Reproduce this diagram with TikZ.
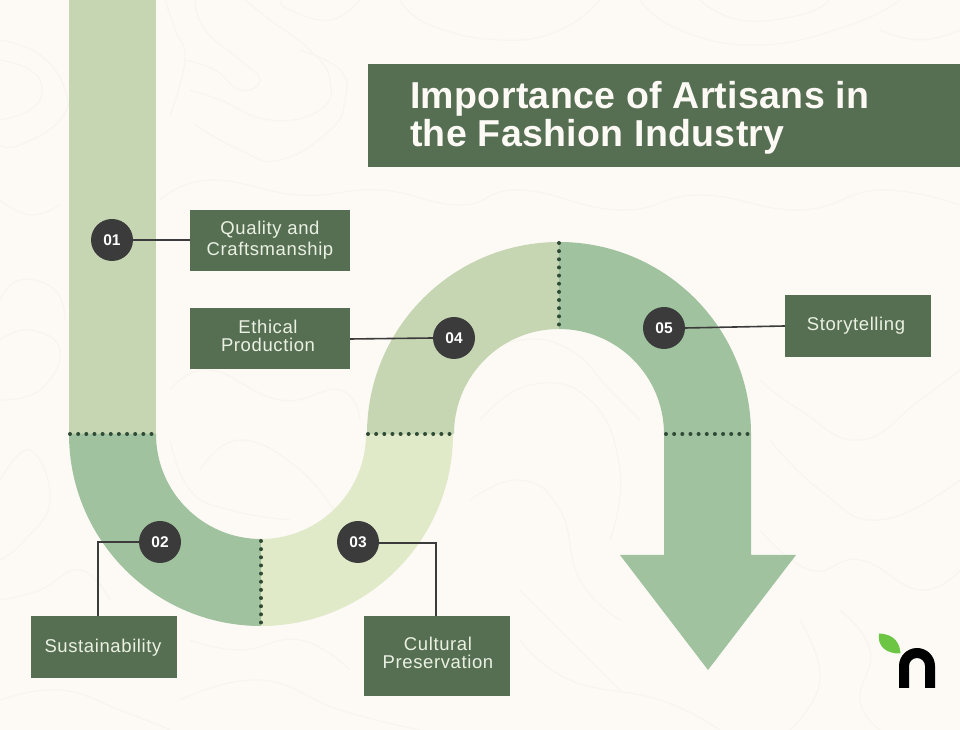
\documentclass[tikz,border=0pt]{standalone}
\usepackage{fontspec}
\setmainfont{Liberation Sans}
\newfontfamily\labelfont[LetterSpace=3.3]{Liberation Sans}
\newfontfamily\titlefont[LetterSpace=0.9]{Liberation Sans}
\definecolor{bgc}{HTML}{FDFAF6}
\definecolor{contour}{HTML}{F8F5EF}
\definecolor{bandA}{HTML}{C6D6B2}
\definecolor{bandB}{HTML}{A0C29F}
\definecolor{bandC}{HTML}{E0EAC9}
\definecolor{boxc}{HTML}{566F53}
\definecolor{dark}{HTML}{3B3B3B}
\definecolor{dotc}{HTML}{2F4A35}
\definecolor{labelc}{HTML}{EAF1E2}
\definecolor{leaf}{HTML}{6CC644}
\tikzset{
  x=1pt,y=1pt,
  labelbox/.style={rectangle,fill=boxc,inner sep=0pt},
  labeltext/.style={inner sep=0pt,text=labelc,align=center,font=\labelfont\fontsize{18.5}{18}\selectfont},
  numdot/.style={circle,fill=dark,text=white,minimum size=42pt,inner sep=0pt,font=\fontsize{15.5}{15.5}\selectfont\bfseries},
  link/.style={draw=dark,line width=1.6pt},
  dots/.style={draw=dotc,line width=4pt,line cap=round,dash pattern=on 0pt off 8.15pt},
  contourline/.style={draw=contour,line width=1.2pt,smooth,tension=0.8},
}
\begin{document}
\begin{tikzpicture}
\useasboundingbox (0,0) rectangle (960,730);
\fill[bgc] (0,0) rectangle (960,730);
% faint contour pattern
\begin{scope}[shift={(0,730)},yscale=-1]
\draw[contourline] plot coordinates {(0,60) (30,70) (42,90) (30,110) (0,120)};
\draw[contourline] plot coordinates {(0,40) (40,55) (65,90) (60,120) (20,145) (0,145)};
\draw[contourline] plot coordinates {(195,0) (205,30) (240,60) (260,80) (240,90) (215,70) (185,60)};
\draw[contourline] plot coordinates {(245,0) (270,20) (310,50) (330,80) (320,110) (270,120) (220,100) (190,90)};
\draw[contourline] plot coordinates {(300,50) (340,70) (345,100) (330,130) (280,160) (240,150) (195,125)};
\draw[contourline] plot coordinates {(170,115) (185,60) (175,30) (165,0)};
\draw[contourline] plot coordinates {(360,0) (330,20) (290,10) (280,0)};
\draw[contourline] plot coordinates {(400,0) (430,25) (500,40) (560,30) (600,0)};
\draw[contourline] plot coordinates {(640,0) (680,30) (760,45) (850,25) (900,0)};
\draw[contourline] plot coordinates {(700,0) (740,20) (800,15) (830,0)};
\draw[contourline] plot coordinates {(880,30) (920,40) (960,30)};
\draw[contourline] plot coordinates {(160,200) (210,180) (300,195) (380,190) (460,205) (520,190) (620,210) (700,195) (800,210) (880,190) (960,205)};
\draw[contourline] plot coordinates {(0,200) (30,215) (60,205)};
\draw[contourline] plot coordinates {(0,340) (30,330) (60,350) (40,390) (0,400)};
\draw[contourline] plot coordinates {(0,300) (20,280) (55,290) (65,320)};
\draw[contourline] plot coordinates {(170,390) (210,370) (280,400) (340,390) (360,420)};
\draw[contourline] plot coordinates {(200,470) (240,440) (300,470) (340,520)};
\draw[contourline] plot coordinates {(170,440) (190,490) (230,510) (290,520)};
\draw[contourline] plot coordinates {(470,360) (520,340) (570,350) (610,390) (640,420)};
\draw[contourline] plot coordinates {(480,420) (530,385) (590,400) (620,470) (610,540)};
\draw[contourline] plot coordinates {(470,500) (520,480) (560,510) (580,580) (620,620)};
\draw[contourline] plot coordinates {(760,380) (800,410) (860,440) (920,400) (960,370)};
\draw[contourline] plot coordinates {(770,440) (820,490) (880,520) (960,480)};
\draw[contourline] plot coordinates {(760,530) (810,570) (860,560) (920,590) (960,570)};
\draw[contourline] plot coordinates {(800,620) (820,680) (790,730)};
\draw[contourline] plot coordinates {(840,610) (870,650) (860,700) (880,730)};
\draw[contourline] plot coordinates {(0,480) (30,450) (50,500) (25,540) (0,560)};
\draw[contourline] plot coordinates {(0,600) (40,590) (80,570) (110,600)};
\draw[contourline] plot coordinates {(190,640) (240,650) (300,640) (350,670)};
\draw[contourline] plot coordinates {(180,700) (260,680) (340,710) (420,730)};
\draw[contourline] plot coordinates {(520,640) (570,680) (660,700) (720,730)};
\draw[contourline] plot coordinates {(520,590) (570,640) (620,690)};
\draw[contourline] plot coordinates {(0,700) (60,690) (120,710) (170,730)};
\end{scope}
% band
\fill[bandA] (69,730) rectangle (156,296);
\fill[bandB] (69,296) arc (180:270:192) -- (261,191) arc (270:180:105) -- cycle;
\fill[bandC] (261,104) arc (270:360:192) -- (366,296) arc (0:-90:105) -- cycle;
\fill[bandA] (367,296) arc (180:90:192) -- (559,401) arc (90:180:105) -- cycle;
\fill[bandB] (559,488) arc (90:0:192) -- (751,175) -- (796,175) -- (708,60) -- (620,175) -- (664,175) -- (664,296) arc (0:90:105) -- cycle;
% dotted dividers
\draw[dots] (70,296) -- (152,296);
\draw[dots] (261,189) -- (261,107);
\draw[dots] (368,296) -- (451,296);
\draw[dots] (559,487) -- (559,404);
\draw[dots] (666,296) -- (749,296);
% title
\node[rectangle,fill=boxc,minimum width=592pt,minimum height=103pt,inner sep=0pt] (titlebox) at (664,614.5) {};
\node[anchor=west,inner sep=0pt,text=bgc,align=left,font=\titlefont\fontsize{37.5}{38}\selectfont\bfseries] (title) at (410,612) {Importance of Artisans in\\the Fashion Industry};
% label boxes
\node[labelbox,minimum width=160pt,minimum height=61pt] (b1) at (270,489.5) {};
\node[labelbox,minimum width=160pt,minimum height=61pt] (b4) at (270,391.5) {};
\node[labelbox,minimum width=146pt,minimum height=62pt] (b5) at (858,404) {};
\node[labelbox,minimum width=146pt,minimum height=62pt] (b2) at (104,83) {};
\node[labelbox,minimum width=146pt,minimum height=80pt] (b3) at (437,74) {};
\node[labeltext] (t1) at (270,490) {Quality and\\[3pt]Craftsmanship};
\node[labeltext] (t4) at (268,394) {Ethical\\Production};
\node[labeltext] (t5) at (856,404) {Storytelling};
\node[labeltext] (t2) at (103,82) {Sustainability};
\node[labeltext] (t3) at (438,77) {Cultural\\Preservation};
% number dots
\node[numdot] (n1) at (112,490) {01};
\node[numdot] (n2) at (160,188) {02};
\node[numdot] (n3) at (358,188) {03};
\node[numdot] (n4) at (454,392) {04};
\node[numdot] (n5) at (664,402) {05};
% connectors
\coordinate (c2) at (98,188);
\coordinate (c3) at (436,187);
\coordinate (e2) at (98,114);
\coordinate (e3) at (436,114);
\draw[link] (n1.east) -- (b1.west |- n1.east);
\draw[link] (n2.west) -- (c2) -- (e2);
\draw[link] (n3.east |- c3) -- (c3) -- (e3);
\draw[link] (n4.west) -- (b4.east |- 0,391);
\draw[link] (n5.east) -- (b5.west |- 0,404);
% logo
\fill[leaf] (879,96.5) .. controls (894,96) and (900,87) .. (900.5,76.5) .. controls (886,76) and (877,84) .. (879,96.5) -- cycle;
\fill[black] (899,42) -- (899,64) arc (180:0:18) -- (935,42) -- (925,42) -- (925,64) arc (0:180:8) -- (909,42) -- cycle;
\end{tikzpicture}
\end{document}
